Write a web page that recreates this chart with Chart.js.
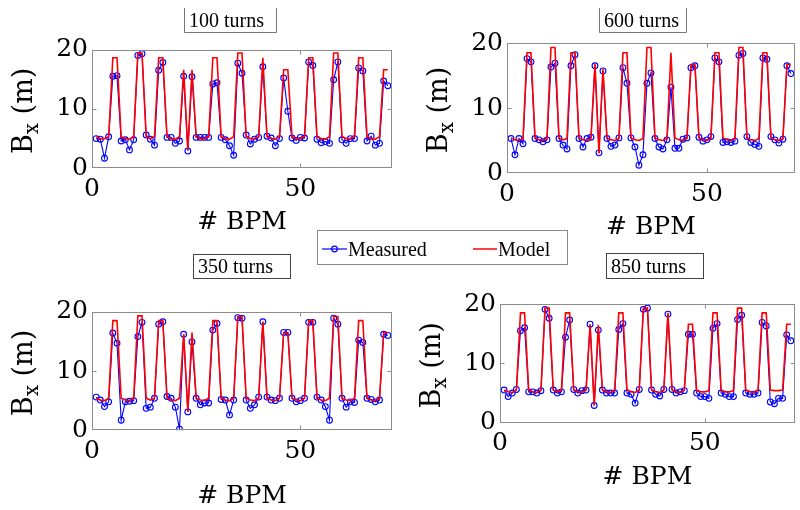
<!DOCTYPE html>
<html>
<head>
<meta charset="utf-8">
<script src="https://cdn.jsdelivr.net/npm/chart.js@4.4.1/dist/chart.umd.min.js"></script>
<style>
  html, body { margin: 0; padding: 0; background: #fff; }
  #wrap { position: relative; width: 800px; height: 510px; overflow: hidden; }
  #wrap canvas { position: absolute; left: 0; top: 0; }
</style>
</head>
<body>
<div id="wrap">
  <canvas id="p100" width="800" height="510"></canvas>
  <canvas id="p600" width="800" height="510"></canvas>
  <canvas id="p350" width="800" height="510"></canvas>
  <canvas id="p850" width="800" height="510"></canvas>
</div>
<script>
// BPM index and axis ticks
const bpm = [1,2,3,4,5,6,7,8,9,10,11,12,13,14,15,16,17,18,19,20,21,22,23,24,25,26,27,28,29,30,
  31,32,33,34,35,36,37,38,39,40,41,42,43,44,45,46,47,48,49,50,51,52,53,54,55,56,57,58,59,60,
  61,62,63,64,65,66,67,68,69,70,71];
const xTicks = [0, 50];
const yTicks = [0, 10, 20];

// 100 turns
const measured100 = [5.0,4.9,1.7,5.3,15.5,15.6,4.6,4.8,3.1,4.8,19.0,19.3,5.6,4.9,3.9,16.5,17.8,5.2,5.2,4.2,
  4.6,15.5,2.9,15.4,5.2,5.2,5.2,5.2,14.2,14.4,5.2,4.8,3.8,2.2,17.7,16.0,5.6,4.1,4.9,5.2,
  17.1,5.4,5.1,3.8,5.0,15.2,9.6,5.1,4.7,5.2,5.1,17.9,17.3,4.9,4.3,4.5,4.2,14.9,17.9,4.8,
  4.2,5.0,5.0,16.9,16.4,4.6,5.4,3.9,4.2,14.7,13.9];
const model100 = [5.3,5.0,5.0,5.3,18.6,18.6,5.3,5.0,4.9,5.3,19.4,19.4,5.3,5.0,5.3,18.6,18.6,5.3,5.0,4.9,
  5.3,16.6,3.1,16.6,5.3,5.0,5.0,5.3,18.6,18.6,5.3,5.0,4.9,5.3,19.4,19.4,5.3,5.0,5.0,5.3,
  18.6,5.3,5.0,4.9,5.3,16.6,16.6,5.3,5.0,5.0,5.3,18.6,18.6,5.3,5.0,4.9,5.3,19.4,19.4,5.3,
  5.0,5.0,5.3,18.6,18.6,5.3,5.0,4.9,5.3,16.6,16.6];

// 600 turns
const measured600 = [5.3,2.8,5.3,4.5,17.6,17.1,5.3,5.1,4.8,5.1,16.3,16.9,5.3,4.3,3.7,16.5,18.2,5.3,4.0,5.3,
  5.5,16.5,3.1,15.7,5.3,4.1,4.3,5.4,16.2,13.8,5.4,4.0,1.2,2.8,13.8,15.4,5.3,4.0,3.7,5.1,
  13.2,3.8,3.8,5.2,5.4,16.2,16.5,5.5,4.9,5.1,5.6,17.7,17.1,4.7,4.8,4.7,4.9,18.1,18.4,5.6,
  4.7,4.4,4.1,17.7,17.5,5.6,5.1,4.6,5.2,16.5,15.3];
const model600 = [5.4,5.1,5.0,5.3,18.5,18.5,5.4,5.1,5.0,5.3,19.3,19.3,5.4,5.1,5.3,18.5,18.5,5.4,5.1,5.0,
  5.3,16.8,3.0,16.0,5.4,5.1,5.0,5.3,18.5,18.5,5.4,5.1,5.0,5.3,19.3,19.3,5.4,5.1,5.0,5.3,
  18.5,5.4,5.1,5.0,5.3,16.7,16.7,5.4,5.1,5.0,5.3,18.5,18.5,5.4,5.1,5.0,5.3,19.3,19.3,5.4,
  5.1,5.0,5.3,18.5,18.5,5.4,5.1,5.0,5.3,16.7,16.7];

// 350 turns
const measured350 = [5.6,5.1,4.0,4.8,16.4,14.7,1.7,4.8,4.9,5.0,15.8,18.2,3.7,3.9,5.4,17.9,18.3,5.7,5.4,3.9,
  0.2,16.2,3.1,14.9,5.4,4.3,4.6,4.6,16.9,18.0,5.2,5.1,2.6,5.1,19.0,18.9,5.1,3.7,4.3,5.6,
  18.3,5.6,5.1,5.0,5.4,16.5,16.5,5.4,4.8,5.0,5.4,18.2,18.2,5.6,5.1,4.0,1.7,18.9,17.9,5.4,
  3.9,4.8,4.7,15.2,14.8,5.4,5.2,4.8,5.1,16.2,16.0];
const model350 = [5.4,5.1,5.0,5.4,18.5,18.5,5.4,5.1,5.0,5.4,19.3,19.3,5.4,5.1,5.4,18.5,18.5,5.4,5.1,5.0,
  5.4,16.2,3.1,16.5,5.4,5.1,5.0,5.4,18.5,18.5,5.4,5.1,5.0,5.4,19.2,19.2,5.4,5.1,5.0,5.4,
  18.3,5.4,5.1,5.0,5.4,16.5,16.5,5.4,5.1,5.0,5.4,18.5,18.5,5.4,5.1,5.0,5.4,19.2,19.2,5.4,
  5.1,5.0,5.4,18.5,18.5,5.4,5.1,5.0,5.4,16.5,16.5];

// 850 turns
const measured850 = [5.5,4.4,5.0,5.6,15.5,16.0,5.2,5.2,5.0,5.4,19.1,17.6,5.5,5.0,5.2,14.4,17.3,5.6,5.0,5.4,
  5.5,16.6,2.9,15.6,5.5,5.0,5.0,5.0,15.7,16.7,5.0,4.8,3.3,5.6,19.1,19.3,5.5,4.8,4.5,5.6,
  18.3,5.6,5.0,5.2,5.4,14.9,14.9,5.0,4.4,4.4,4.1,15.9,16.7,5.0,4.8,4.4,4.4,17.4,18.1,5.0,
  4.8,4.8,5.0,16.9,16.3,3.5,3.2,4.1,4.1,14.8,13.8];
const model850 = [5.5,5.2,5.1,5.5,18.5,18.5,5.5,5.2,5.1,5.5,19.3,19.3,5.5,5.2,5.5,18.5,18.5,5.5,5.2,5.1,
  5.5,16.5,2.9,16.5,5.5,5.2,5.1,5.5,18.5,18.5,5.5,5.2,5.1,5.5,19.3,19.3,5.5,5.2,5.1,5.5,
  18.5,5.5,5.2,5.1,5.5,16.6,16.6,5.4,5.2,5.2,5.4,18.5,18.5,5.4,5.2,5.2,5.4,19.3,19.3,5.5,
  5.2,5.1,5.5,18.5,18.5,5.5,5.4,5.4,5.5,16.6,16.6];

// Panel layout (plot area in page pixels, label offsets, title boxes)
const panels = [
  { id: 'p100', title: '100 turns', measured: measured100, model: model100,
    area: { left: 92, top: 49.5, right: 392, bottom: 168.3 }, xTitleOffset: 54,
    box: { x: 184, y: 8, w: 92, h: 24, open: true, color: '#777' }, legend: true },
  { id: 'p600', title: '600 turns', measured: measured600, model: model600,
    area: { left: 507, top: 43, right: 799, bottom: 173 }, xTitleOffset: 54,
    box: { x: 599, y: 8, w: 87, h: 24, open: true, color: '#777' } },
  { id: 'p350', title: '350 turns', measured: measured350, model: model350,
    area: { left: 92, top: 311.7, right: 392, bottom: 430.3 }, xTitleOffset: 66,
    box: { x: 193, y: 254, w: 97, h: 24, open: false, color: '#444' } },
  { id: 'p850', title: '850 turns', measured: measured850, model: model850,
    area: { left: 500, top: 304, right: 797, bottom: 422.7 }, xTitleOffset: 55,
    box: { x: 606, y: 253, w: 97, h: 25, open: false, color: '#444' } }
];

const tickFont = { family: '"DejaVu Serif", serif', size: 25 };
const Y_AXIS_W = 50;
const X_AXIS_H = 40;

function drawLegend(ctx) {
    ctx.save();
    ctx.strokeStyle = '#888';
    ctx.lineWidth = 1;
    ctx.strokeRect(317.5, 230.5, 250, 34);
    const y = 249;
    ctx.strokeStyle = '#0000ff';
    ctx.lineWidth = 1.2;
    ctx.beginPath();
    ctx.moveTo(322, y); ctx.lineTo(347, y);
    ctx.stroke();
    ctx.beginPath();
    ctx.arc(334.5, y, 2.8, 0, Math.PI * 2);
    ctx.stroke();
    ctx.strokeStyle = '#ff0000';
    ctx.lineWidth = 1.5;
    ctx.beginPath();
    ctx.moveTo(473, y); ctx.lineTo(497, y);
    ctx.stroke();
    ctx.fillStyle = '#000';
    ctx.font = '20px "Liberation Serif", serif';
    ctx.textBaseline = 'alphabetic';
    ctx.fillText('Measured', 348, 256);
    ctx.fillText('Model', 498, 256);
    ctx.restore();
}

function makePanel(p) {
    const decor = {
        id: 'decor',
        afterDatasetsDraw(chart) {
            // MATLAB style box with inward ticks
            const { ctx, chartArea: a } = chart;
            const xs = chart.scales.x, ys = chart.scales.y;
            const L = Math.round(a.left) + 0.5, R = Math.round(a.right) - 0.5;
            const T = Math.round(a.top) + 0.5, B = Math.round(a.bottom) - 0.5;
            ctx.save();
            ctx.strokeStyle = '#8c8c8c';
            ctx.lineWidth = 1;
            ctx.strokeRect(L, T, R - L, B - T);
            ctx.beginPath();
            yTicks.slice(1, -1).forEach(v => {
                const y = Math.round(ys.getPixelForValue(v)) + 0.5;
                ctx.moveTo(L, y); ctx.lineTo(L + 4, y);
                ctx.moveTo(R, y); ctx.lineTo(R - 4, y);
            });
            xTicks.slice(1).forEach(v => {
                const x = Math.round(xs.getPixelForValue(v)) + 0.5;
                ctx.moveTo(x, B); ctx.lineTo(x, B - 4);
                ctx.moveTo(x, T); ctx.lineTo(x, T + 4);
            });
            ctx.stroke();
            ctx.restore();
        },
        afterDraw(chart) {
            const { ctx, chartArea: a } = chart;
            ctx.save();
            ctx.fillStyle = '#000';

            // y title: B_x (m)
            ctx.save();
            ctx.translate(a.left - 70, (a.top + a.bottom) / 2 + 2);
            ctx.rotate(-Math.PI / 2);
            const big = '27px "DejaVu Serif", serif', small = '20px "DejaVu Serif", serif';
            ctx.textBaseline = 'alphabetic';
            ctx.font = big;
            const wB = ctx.measureText('B').width, wR = ctx.measureText(' (m)').width;
            ctx.font = small;
            const wX = ctx.measureText('x').width;
            const x0 = -(wB + wX + wR) / 2;
            ctx.font = big; ctx.fillText('B', x0, 10);
            ctx.font = small; ctx.fillText('x', x0 + wB, 16);
            ctx.font = big; ctx.fillText(' (m)', x0 + wB + wX, 10);
            ctx.restore();

            // x title
            ctx.font = '25px "DejaVu Serif", serif';
            ctx.textAlign = 'center';
            ctx.textBaseline = 'middle';
            ctx.fillText('# BPM', (a.left + a.right) / 2, a.bottom + p.xTitleOffset);

            // title box
            const b = p.box;
            ctx.strokeStyle = b.color;
            ctx.lineWidth = 1;
            if (b.open) {
                ctx.beginPath();
                ctx.moveTo(b.x + 0.5, b.y); ctx.lineTo(b.x + 0.5, b.y + b.h + 0.5);
                ctx.lineTo(b.x + b.w + 0.5, b.y + b.h + 0.5); ctx.lineTo(b.x + b.w + 0.5, b.y);
                ctx.stroke();
            } else {
                ctx.strokeRect(b.x + 0.5, b.y + 0.5, b.w, b.h);
            }
            ctx.font = '20px "Liberation Serif", serif';
            ctx.textAlign = 'left';
            ctx.textBaseline = 'alphabetic';
            ctx.fillText(p.title, b.x + 5, b.y + b.h - 5);
            ctx.restore();

            if (p.legend) drawLegend(ctx);
        }
    };

    const ctx = document.getElementById(p.id).getContext('2d');
    return new Chart(ctx, {
        type: 'line',
        data: {
            datasets: [{
                label: 'Measured',
                data: p.measured.map((v, i) => ({ x: bpm[i], y: v })),
                borderColor: '#0000ff',
                borderWidth: 1.1,
                pointRadius: 2.9,
                pointBorderWidth: 1.1,
                pointBorderColor: '#0000ff',
                pointBackgroundColor: 'rgba(0,0,0,0)',
                tension: 0,
                order: 2
            }, {
                label: 'Model',
                data: p.model.map((v, i) => ({ x: bpm[i], y: v })),
                borderColor: '#ff0000',
                borderWidth: 1.6,
                pointRadius: 0,
                tension: 0,
                order: 1
            }]
        },
        options: {
            responsive: false,
            animation: false,
            devicePixelRatio: 1,
            layout: {
                padding: {
                    left: p.area.left - Y_AXIS_W,
                    top: p.area.top,
                    right: 800 - p.area.right,
                    bottom: 510 - p.area.bottom - X_AXIS_H
                }
            },
            plugins: {
                legend: { display: false },
                tooltip: { enabled: false }
            },
            scales: {
                x: {
                    type: 'linear',
                    min: 0,
                    max: 72,
                    grid: { display: false, drawTicks: false },
                    border: { display: false },
                    ticks: { font: tickFont, color: '#000', padding: 6, maxRotation: 0 },
                    afterBuildTicks: s => { s.ticks = xTicks.map(v => ({ value: v })); },
                    afterFit: s => { s.height = X_AXIS_H; s.paddingLeft = 0; s.paddingRight = 0; }
                },
                y: {
                    min: 0,
                    max: 20,
                    grid: { display: false, drawTicks: false },
                    border: { display: false },
                    ticks: { font: tickFont, color: '#000', padding: 4 },
                    afterBuildTicks: s => { s.ticks = yTicks.map(v => ({ value: v })); },
                    afterFit: s => { s.width = Y_AXIS_W; s.paddingTop = 0; s.paddingBottom = 0; }
                }
            }
        },
        plugins: [decor]
    });
}

panels.forEach(makePanel);
</script>
</body>
</html>
